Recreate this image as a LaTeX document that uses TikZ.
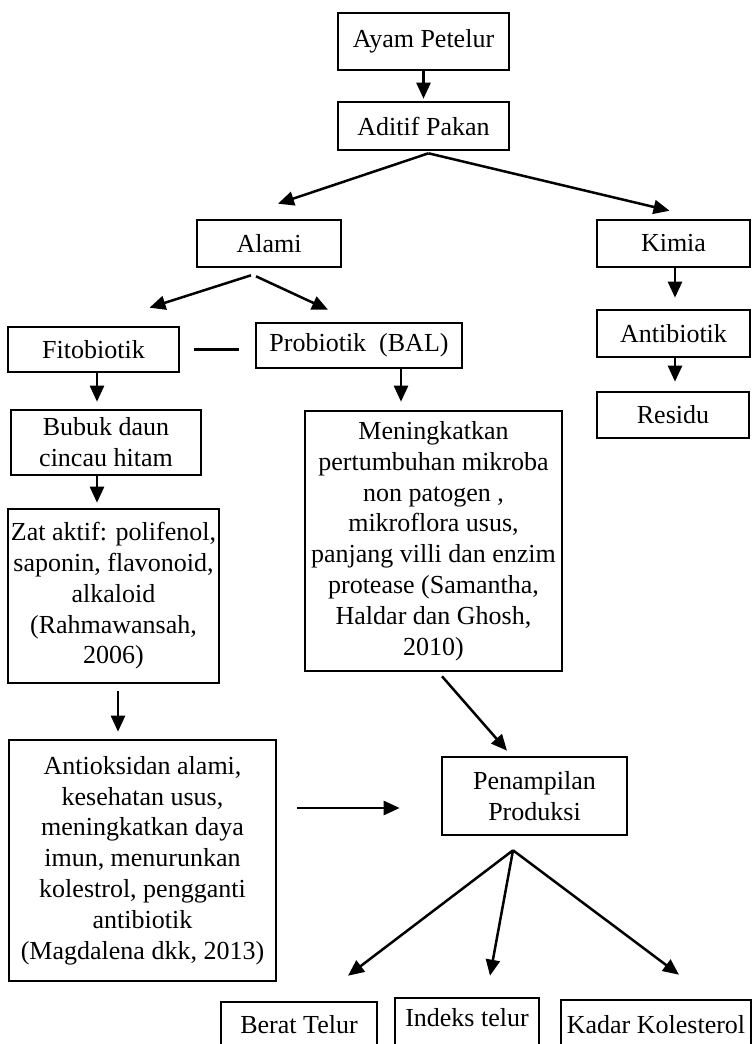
\documentclass[tikz,border=0pt]{standalone}
\usepackage{fontspec}
\setmainfont{Liberation Serif}
\usetikzlibrary{arrows.meta,calc}
\begin{document}
\begin{tikzpicture}[x=1pt,y=-1pt,
  box/.style={draw,line width=2.6pt,inner sep=0pt,align=center,font=\fontsize{26}{30.8}\selectfont},
  botbox/.style={draw,line width=2.6pt,inner sep=0pt,anchor=base,font=\fontsize{26}{30.8}\selectfont},
  arr/.style={line width=2.5pt,-{Triangle[length=16pt,width=14pt]}},
  ln/.style={line width=2.5pt}]
\useasboundingbox[fill=white] (0,0) rectangle (754,1044);

\node[box,minimum width=171pt,minimum height=57pt] (ayam) at (423.5,41.5) {Ayam Petelur};
\node[box,minimum width=171pt,minimum height=48pt] (aditif) at (423.5,126) {Aditif Pakan};
\node[box,minimum width=144pt,minimum height=47pt] (alami) at (269,243.5) {Alami};
\node[box,minimum width=153pt,minimum height=47pt] (kimia) at (673.5,243.5) {Kimia};
\node[box,minimum width=153pt,minimum height=47pt] (antibiotik) at (673.5,333.5) {Antibiotik};
\node[box,minimum width=171pt,minimum height=45pt] (fito) at (93.5,349.5) {Fitobiotik};
\node[box,minimum width=206pt,minimum height=45pt] (prob) at (359,345.5) {Probiotik~~(BAL)};
\node[box,minimum width=152pt,minimum height=46pt] (residu) at (673,415) {Residu};
\node[box,minimum width=190pt,minimum height=65pt] (bubuk) at (106,442.5) {Bubuk daun\\cincau hitam};
\node[box,minimum width=257pt,minimum height=260pt] (mening) at (433.5,541) {Meningkatkan\\pertumbuhan mikroba\\non patogen ,\\mikroflora usus,\\panjang villi dan enzim\\protease (Samantha,\\Haldar dan Ghosh,\\2010)};
\node[box,minimum width=211pt,minimum height=174pt] (zat) at (113.5,596) {Zat aktif: polifenol,\\saponin, flavonoid,\\alkaloid\\(Rahmawansah,\\2006)};
\node[box,minimum width=267pt,minimum height=241pt] (antiok) at (142.5,860.5) {Antioksidan alami,\\kesehatan usus,\\meningkatkan daya\\imun, menurunkan\\kolestrol, pengganti\\antibiotik\\(Magdalena dkk, 2013)};
\node[box,minimum width=185pt,minimum height=78pt] (penamp) at (534.5,796) {Penampilan\\Produksi};
\node[botbox,minimum width=156pt,text height=31.5pt,text depth=20pt] (berat) at (299,1033.5) {Berat Telur};
\node[botbox,minimum width=144pt,text height=28.5pt,text depth=25pt] (indeks) at (467,1026.5) {Indeks telur};
\node[botbox,minimum width=190pt,text height=33.5pt,text depth=20pt] (kadar) at (656,1033.5) {Kadar Kolesterol};

\draw[arr] (ayam.south) -- ($(aditif.north)+(0,-2)$);
\draw[arr] ($(aditif.south)+(5,2)$) -- ($(alami.north)+(9,-15)$);
\draw[arr] ($(aditif.south)+(5,2)$) -- ($(kimia.north)+(-4,-8)$);
\draw[arr] ($(alami.south)+(-18,7)$) -- ($(fito.north)+(56,-18)$);
\draw[arr] ($(alami.south)+(-13,8)$) -- ($(prob.north)+(-31,-12)$);
\draw[arr] ($(kimia.south)+(1.5,0)$) -- ($(antibiotik.north)+(1.5,-11)$);
\draw[ln] ($(fito.east)+(14,0)$) -- ($(prob.west)+(-16,4)$);
\draw[arr] ($(antibiotik.south)+(1.5,0)$) -- ($(residu.north)+(2,-9)$);
\draw[arr] ($(fito.south)+(3.5,0)$) -- ($(bubuk.north)+(-9,-7)$);
\draw[arr] ($(prob.south)+(42,0)$) -- ($(mening.north)+(-32.5,-8)$);
\draw[arr] ($(bubuk.south)+(-9,0)$) -- ($(zat.north)+(-16.5,-5)$);
\draw[arr] ($(zat.south)+(4.5,7)$) -- ($(antiok.north)+(-24.5,-7)$);
\draw[arr] ($(antiok.east)+(20,-52.5)$) -- ($(penamp.west)+(-41,12)$);
\draw[arr] ($(mening.south)+(8.5,4)$) -- ($(penamp.north)+(-27.5,-5)$);
\draw[arr] ($(penamp.south)+(-21.5,14)$) -- ($(berat.north)+(49,-25)$);
\draw[arr] ($(penamp.south)+(-21.5,14)$) -- ($(indeks.north)+(23,-21)$);
\draw[arr] ($(penamp.south)+(-21.5,14)$) -- ($(kadar.north)+(23,-24)$);
\end{tikzpicture}
\end{document}
